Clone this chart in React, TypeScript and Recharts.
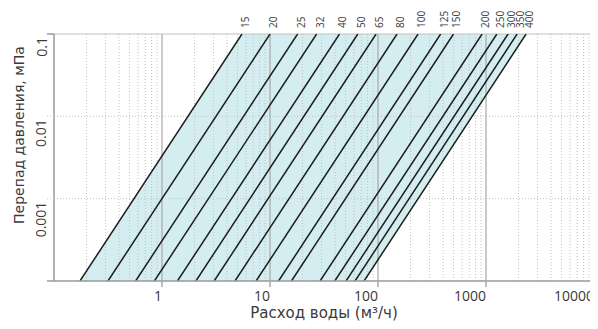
import React from 'react';
import { ComposedChart, XAxis, YAxis, Area, Line, ReferenceLine } from 'recharts';

// Nominal diameters (DN) shown above the plot
const sizeLabels = ['15', '20', '25', '32', '40', '50', '65', '80', '100', '125', '150', '200', '250', '300', '350', '400'];
// Flow (m3/h) where each DN line reaches 0.1 MPa (top of plot)
const flowAtTop = [5.5, 10, 18, 27, 44, 65, 96, 150, 235, 380, 500, 920, 1260, 1600, 1940, 2350];
// Flow (m3/h) where each DN line reaches 0.0001 MPa (bottom of plot)
const flowAtBottom = [0.174, 0.316, 0.57, 0.85, 1.39, 2.06, 3.04, 4.74, 7.43, 12.0, 15.8, 29.1, 39.8, 50.6, 61.3, 74.3];
const pressureTop = 0.1;
const pressureBottom = 0.0001;

const xDomain = [0.1, 10000];
const yDomain = [0.0001, 0.1];
const xTicks = [1, 10, 100, 1000, 10000];
const xTickLabels = ['1', '10', '100', '1000', '10000'];
const yTicks = [0.0001, 0.001, 0.01, 0.1];
const yTickLabels = ['', '0.001', '0.01', '0.1'];
const majorX = [1, 10, 100, 1000, 10000];
const minorX = [
  0.2, 0.3, 0.4, 0.5, 0.6, 0.7, 0.8, 0.9,
  2, 3, 4, 5, 6, 7, 8, 9,
  20, 30, 40, 50, 60, 70, 80, 90,
  200, 300, 400, 500, 600, 700, 800, 900,
  2000, 3000, 4000, 5000, 6000, 7000, 8000, 9000,
];
const minorY = [0.001, 0.01];

const n = flowAtTop.length;
const bandData = [
  { q: flowAtBottom[0], band: [pressureBottom, pressureBottom] },
  { q: flowAtTop[0], band: [pressureBottom, pressureTop] },
  { q: flowAtBottom[n - 1], band: [pressureBottom, pressureTop] },
  { q: flowAtTop[n - 1], band: [pressureTop, pressureTop] },
];

const seriesData = sizeLabels.map((_, i) => [
  { q: flowAtBottom[i], p: pressureBottom },
  { q: flowAtTop[i], p: pressureTop },
]);

const TEXT = '#3a3a3a';
const GRID_MAJOR = '#a8a8a8';
const GRID_MINOR = '#c2c2c2';
const AXIS = '#9a9a9a';
const FILL = '#d4edf1';
const TICK_FONT = '"Open Sans", "DejaVu Sans", sans-serif';
const TITLE_FONT = '"DejaVu Sans", "Open Sans", sans-serif';

const BottomTick = (props: any) => {
  const { x, y, payload } = props;
  const i = xTicks.indexOf(payload.value);
  return (
    <text x={x} y={y + 12} textAnchor="end" fontFamily={TICK_FONT} fontSize={14} fill={TEXT}>
      {i >= 0 ? xTickLabels[i] : payload.value}
    </text>
  );
};

const makeTopLabel = (text: string) => (props: any) => {
  const { x, y, index } = props;
  if (index !== 1 || x == null || y == null) return null;
  const tx = x + 3;
  const ty = y - 6;
  return (
    <text
      x={tx}
      y={ty}
      transform={`rotate(-90 ${tx} ${ty})`}
      textAnchor="start"
      dominantBaseline="central"
      fontFamily={TICK_FONT}
      fontSize={10}
      fill={TEXT}
    >
      {text}
    </text>
  );
};

const LeftTick = (props: any) => {
  const { x, y, payload } = props;
  const i = yTicks.indexOf(payload.value);
  const label = i >= 0 ? yTickLabels[i] : '';
  const dotted = payload.value !== 0.1 && payload.value !== 0.0001;
  const tx = x - 6;
  return (
    <g>
      <line
        x1={x}
        x2={x + 7}
        y1={y}
        y2={y}
        stroke={dotted ? GRID_MINOR : AXIS}
        strokeWidth={dotted ? 1 : 1.5}
        strokeDasharray={dotted ? '1 2' : undefined}
      />
      {label ? (
        <text
          x={tx}
          y={y + 3}
          transform={`rotate(-90 ${tx} ${y + 3})`}
          textAnchor="end"
          dominantBaseline="central"
          fontFamily={TICK_FONT}
          fontSize={14}
          fill={TEXT}
        >
          {label}
        </text>
      ) : null}
    </g>
  );
};

const XTitle = (props: any) => {
  const vb = props.viewBox || { x: 0, y: 0, width: 0, height: 0 };
  return (
    <text
      x={vb.x + vb.width / 2}
      y={vb.y + 37}
      textAnchor="middle"
      fontFamily={TITLE_FONT}
      fontSize={15}
      fill={TEXT}
    >
      Расход воды (м³/ч)
    </text>
  );
};

const YTitle = (props: any) => {
  const vb = props.viewBox || { x: 0, y: 0, width: 0, height: 0 };
  const cx = vb.x + 5;
  const cy = vb.y + 101;
  return (
    <text
      x={cx}
      y={cy}
      transform={`rotate(-90 ${cx} ${cy})`}
      textAnchor="middle"
      dominantBaseline="central"
      fontFamily={TITLE_FONT}
      fontSize={14}
      fill={TEXT}
    >
      Перепад давления, мПа
    </text>
  );
};

export default function App() {
  return (
    <div style={{ width: 590, height: 321 }}>
      <ComposedChart width={590} height={321} margin={{ top: 26, right: 4, bottom: 0, left: 6 }}>
        <XAxis
          xAxisId="q"
          dataKey="q"
          type="number"
          scale="log"
          domain={xDomain}
          allowDataOverflow
          ticks={xTicks}
          interval={0}
          height={48}
          tickSize={6}
          tickMargin={2}
          tick={<BottomTick />}
          tickLine={{ stroke: GRID_MAJOR, strokeWidth: 1.5 }}
          axisLine={{ stroke: AXIS, strokeWidth: 1.5 }}
          label={<XTitle />}
        />
        <YAxis
          yAxisId="p"
          dataKey="p"
          type="number"
          scale="log"
          domain={yDomain}
          allowDataOverflow
          ticks={yTicks}
          interval={0}
          width={40}
          tickSize={7}
          tickMargin={0}
          tick={<LeftTick />}
          tickLine={false}
          axisLine={{ stroke: AXIS, strokeWidth: 1.5 }}
          label={<YTitle />}
        />
        <Area
          xAxisId="q"
          yAxisId="p"
          data={bandData}
          dataKey="band"
          type="linear"
          stroke="none"
          fill={FILL}
          fillOpacity={1}
          isAnimationActive={false}
        />
        {minorX.map((v) => (
          <ReferenceLine key={`mx${v}`} xAxisId="q" yAxisId="p" x={v} stroke={GRID_MINOR} strokeDasharray="1 2" />
        ))}
        {minorY.map((v) => (
          <ReferenceLine key={`my${v}`} xAxisId="q" yAxisId="p" y={v} stroke={GRID_MINOR} strokeDasharray="1 2" />
        ))}
        {majorX.map((v) => (
          <ReferenceLine key={`Mx${v}`} xAxisId="q" yAxisId="p" x={v} stroke={GRID_MAJOR} strokeWidth={1.2} />
        ))}
        <ReferenceLine xAxisId="q" yAxisId="p" y={pressureTop} stroke={GRID_MINOR} strokeWidth={1.2} />
        {seriesData.map((d, i) => (
          <Line
            key={sizeLabels[i]}
            xAxisId="q"
            yAxisId="p"
            data={d}
            dataKey="p"
            type="linear"
            stroke="#1c1c1c"
            strokeWidth={1.5}
            dot={false}
            activeDot={false}
            label={makeTopLabel(sizeLabels[i])}
            isAnimationActive={false}
          />
        ))}
      </ComposedChart>
    </div>
  );
}
